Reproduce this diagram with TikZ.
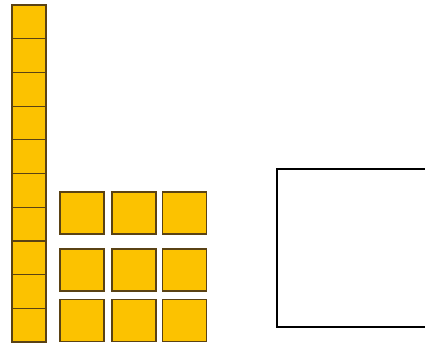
\documentclass[tikz,border=0pt]{standalone}
\definecolor{cube}{HTML}{FCC200}
\definecolor{edge}{HTML}{5A4214}
\tikzset{
  unitcube/.style={draw=edge, line width=1.2pt, fill=cube, inner sep=0pt, minimum width=44pt, minimum height=42pt},
  rodcell/.style={draw=edge, line width=1.2pt, fill=cube, inner sep=0pt, minimum width=34pt, minimum height=33.7pt},
  answerbox/.style={draw=black, line width=2pt}
}
\begin{document}
\begin{tikzpicture}[x=1pt,y=-1pt]
\useasboundingbox (0,0) rectangle (425,345);
% ten rod
\foreach \i in {0,...,9} {
  \node[rodcell] (r\i) at (29, {5+33.7*\i+16.85}) {};
}
% ones: columns and rows
\node[unitcube] (a1) at (82,213) {};
\node[unitcube] (a2) at (134,213) {};
\node[unitcube] (a3) at (184.5,213) {};
\node[unitcube] (b1) at (82,270) {};
\node[unitcube] (b2) at (134,270) {};
\node[unitcube] (b3) at (184.5,270) {};
\node[unitcube] (c1) at (82,320.5) {};
\node[unitcube] (c2) at (134,320.5) {};
\node[unitcube] (c3) at (184.5,320.5) {};
% answer box (right side cut off)
\draw[answerbox] (432,169) -- (277,169) -- (277,327) -- (432,327);
\end{tikzpicture}
\end{document}
